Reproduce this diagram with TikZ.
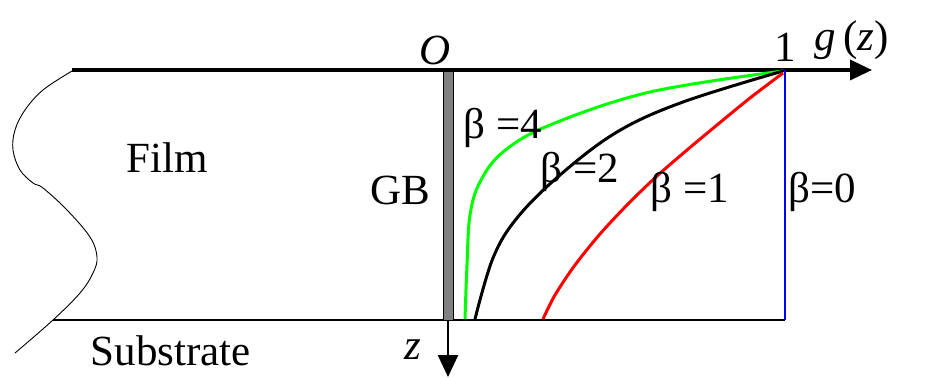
\documentclass[tikz,border=0pt]{standalone}
\usepackage{fontspec}
\setmainfont{Liberation Serif}
\usetikzlibrary{arrows.meta}

\definecolor{purered}{RGB}{255,0,0}
\definecolor{puregreen}{RGB}{0,255,0}
\definecolor{pureblue}{RGB}{0,0,255}

\begin{document}
\begin{tikzpicture}[
	x=1pt, y=-1pt,
	font=\fontsize{43}{47}\selectfont,
	lbl/.style={inner sep=0pt, anchor=center},
	axisline/.style={line width=3.5pt, -{Triangle[length=22pt, width=20pt]}},
	depthline/.style={line width=2.5pt, -{Triangle[length=22pt, width=20pt]}},
	profile/.style={line width=3pt, line join=round},
	gbbar/.style={draw=black, fill=black!50, line width=1pt}
]
\useasboundingbox (0,0) rectangle (925,377);

% Film boundaries and broken edge.
\coordinate (orig) at (448,70);
\coordinate (one) at (785,70);
\coordinate (bot) at (448,320);
\coordinate (corner) at (785,320);
\draw[line width=2pt] (53,320) -- (corner);
\draw[line width=0.9pt] plot[smooth, tension=0.6] coordinates {
	(72,71) (43,90) (25,110) (15,130) (13,150) (20,170) (33,183) (43,188)
	(67,210) (90,237) (97,257) (93,273) (80,293) (53,320) (15,353)};

% Grain boundary and axes.
\draw[gbbar] (443,70) rectangle (453,320);
\draw[axisline] (72,70) -- (872,70);
\draw[depthline] (bot) -- (448,377);
\draw[pureblue, line width=1.5pt] (one) -- (corner);

% Diffusion profiles.
\draw[profile, puregreen] plot[smooth, tension=0.6] coordinates {
	(783,71) (650,92) (550,125) (503,152) (480,182) (470,215) (467,265) (465,319)};
\draw[profile, black] plot[smooth, tension=0.6] coordinates {
	(783,71) (683,102) (617,132) (560,175) (517,218) (493,258) (475,319)};
\draw[profile, purered] plot[smooth] coordinates {
	(783,73) (750,98) (717,125) (687,150) (657,176) (628,204) (600,234)
	(575,265) (555,295) (543,319)};

% Labels.
\node[lbl] (lO) at (435,50) {\textit{O}};
\node[lbl] (l1) at (785,47) {1};
\node[lbl] (lg) at (852,40) {\textit{g}\,(\textit{z})};
\node[lbl] (lz) at (413,350) {\textit{z}};
\node[lbl] (film) at (167,158) {Film};
\node[lbl] (sub) at (171,351) {Substrate};
\node[lbl] (gb) at (400,190) {GB};
\node[lbl] (b4) at (503,128) {β =4};
\node[lbl] (b2) at (580,172) {β =2};
\node[lbl] (b1) at (690,192) {β =1};
\node[lbl] (b0) at (822,192) {β=0};

\end{tikzpicture}
\end{document}
